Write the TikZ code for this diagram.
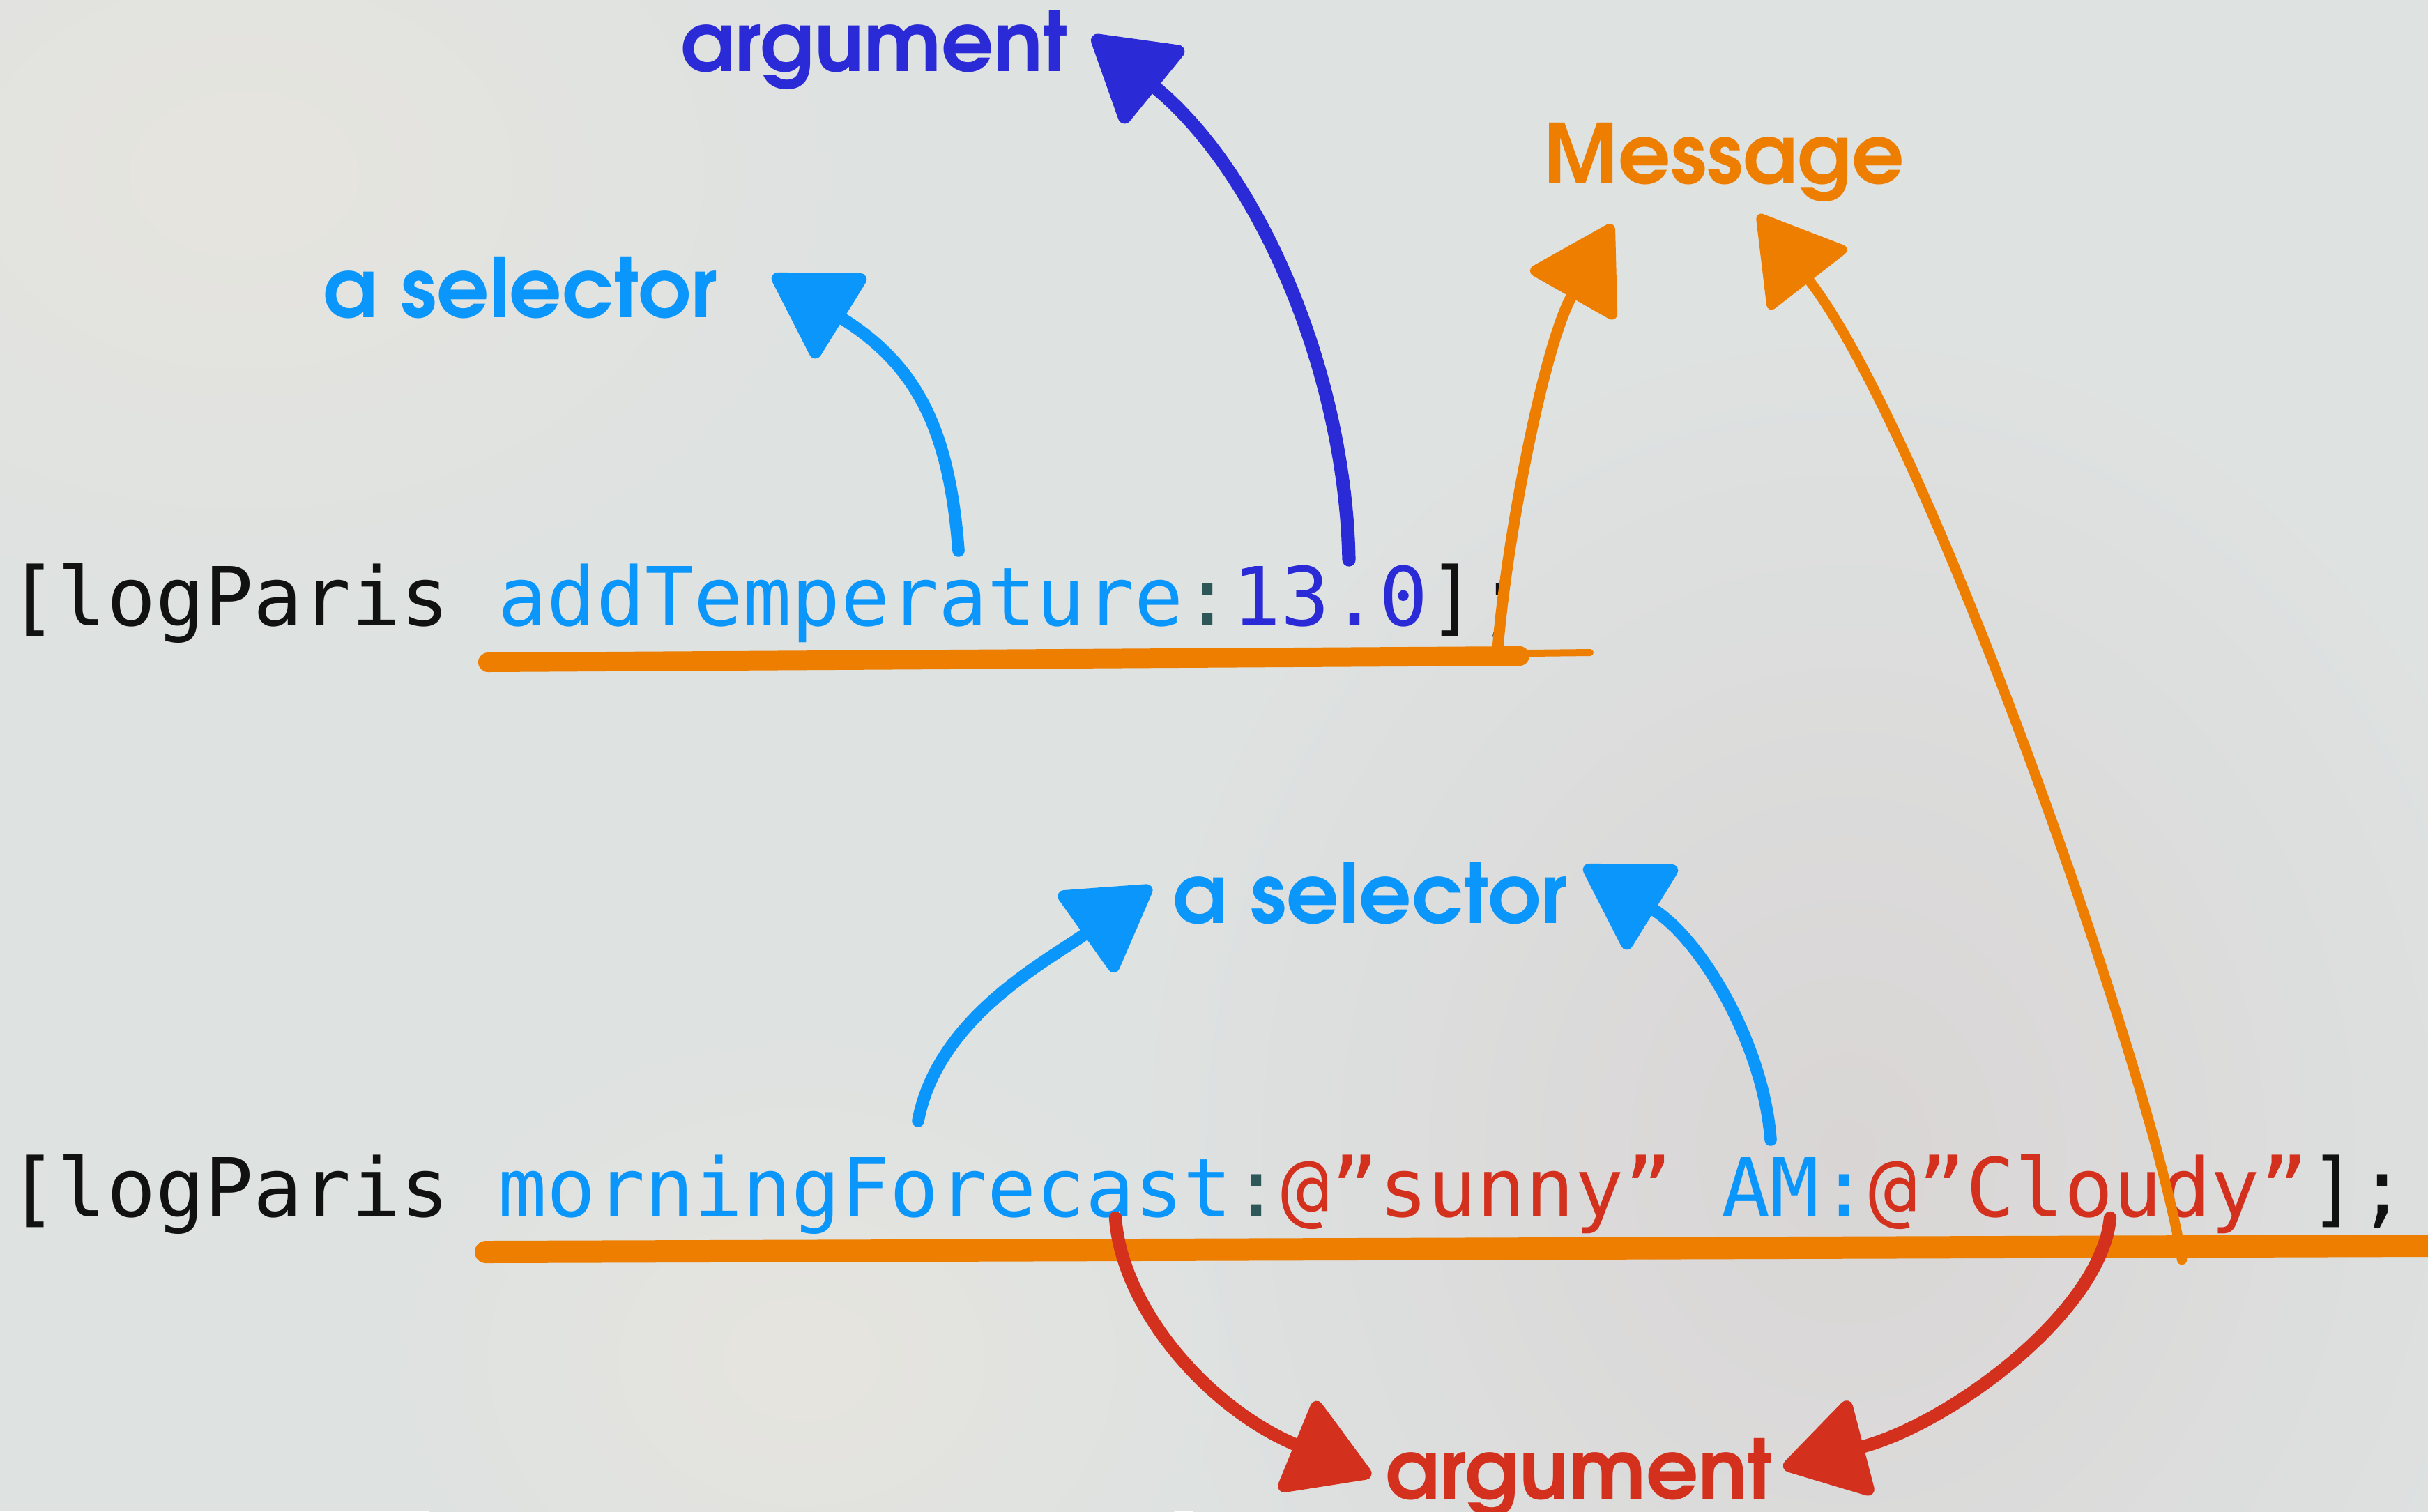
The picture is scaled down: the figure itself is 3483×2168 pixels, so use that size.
\documentclass[tikz,border=0pt]{standalone}
\usepackage{fontspec}
\setmonofont{DejaVu Sans Mono}
\newfontfamily\lblfont{texgyreadventor}[Extension=.otf,UprightFont=*-bold]
\usetikzlibrary{arrows.meta}

\definecolor{bg}{HTML}{DEE2E1}
\definecolor{bgwarm}{HTML}{E6E4DE}
\definecolor{bgpink}{HTML}{D9D5D5}
\definecolor{selblue}{HTML}{0A96FA}
\definecolor{argblue}{HTML}{2A2AD6}
\definecolor{colon}{HTML}{2E5757}
\definecolor{strred}{HTML}{D4301E}
\definecolor{msgorange}{HTML}{EE7E00}
\definecolor{codeblack}{HTML}{111111}

\newcommand\cdfont{\fontsize{29.15pt}{34pt}\selectfont\ttfamily}

\tikzset{
  code/.style={inner sep=0pt, anchor=base west, font=\cdfont, text=codeblack},
  lbl/.style={inner sep=0pt, anchor=base west, font=\lblfont\fontsize{29.5pt}{34pt}\selectfont},
  chalk/.style={line width=#1, line cap=round, line join=round,
    -{Triangle[length=32pt,width=37.5pt,round]}},
  underline/.style={msgorange, line cap=round, line width=#1},
}

\begin{document}
\begin{tikzpicture}[x=0.25pt, y=-0.25pt]
  % canvas
  \useasboundingbox (0,0) rectangle (3483,2168);
  \fill[bg] (0,0) rectangle (3483,2168);
  \shade[inner color=bgwarm, outer color=bg] (350,250) ellipse [x radius=220pt, y radius=160pt];
  \shade[inner color=bgpink, outer color=bg] (2650,1650) ellipse [x radius=260pt, y radius=300pt];
  \shade[inner color=bgwarm, outer color=bg] (1150,1950) ellipse [x radius=150pt, y radius=120pt];

  % message underlines
  \draw[underline=7pt] (700,950) -- (2180,941);
  \draw[underline=2.5pt] (2100,938) -- (2281,936);
  \draw[underline=8pt] (697,1796) -- (3483,1787);

  % code lines
  \node[code] (line1) at (12,897) {[logParis \textcolor{selblue}{addTemperature}\textcolor{colon}{:}\textcolor{argblue}{13.0}];};
  \node[code] (line2) at (12,1745) {[logParis \textcolor{selblue}{morningForecast}\textcolor{colon}{:}\textcolor{strred}{@”sunny”} \textcolor{selblue}{AM:}\textcolor{strred}{@”Cloudy”}];};

  % labels
  \node[lbl, text=argblue]   (arg1) at (976,102)   {argument};
  \node[lbl, text=selblue]   (sel1) at (463,455)   {a selector};
  \node[lbl, text=msgorange] (msg)  at (2214,263)  {Message};
  \node[lbl, text=selblue]   (sel2) at (1682,1324) {a selector};
  \node[lbl, text=strred]    (arg2) at (1987,2150) {argument};

  % arrow ends
  \coordinate (selA)  at (1375,790);  \coordinate (selAtip)  at (1108,395);
  \coordinate (argA)  at (1935,803);  \coordinate (argAtip)  at (1567,52);
  \coordinate (msgA)  at (2148,937);  \coordinate (msgAtip)  at (2313,322);
  \coordinate (msgB)  at (3130,1807); \coordinate (msgBtip)  at (2522,308);
  \coordinate (selB)  at (1317,1608); \coordinate (selBtip)  at (1652,1272);
  \coordinate (selC)  at (2540,1635); \coordinate (selCtip)  at (2272,1243);
  \coordinate (argB)  at (1600,1747); \coordinate (argBtip)  at (1967,2117);
  \coordinate (argC)  at (3027,1747); \coordinate (argCtip)  at (2558,2105);

  % first message
  \draw[chalk=4.4pt, selblue] (selA) .. controls (1362,620) and (1318,525) .. (selAtip);
  \draw[chalk=4.8pt, argblue] (argA) .. controls (1930,540) and (1810,250) .. (argAtip);
  \draw[chalk=4pt, msgorange] (msgA) .. controls (2160,780) and (2214,496) .. (msgAtip);

  % second message
  \draw[chalk=3.6pt, msgorange] (msgB) .. controls (3090,1550) and (2768,624) .. (msgBtip);
  \draw[chalk=4.4pt, selblue] (selB) .. controls (1345,1460) and (1500,1380) .. (selBtip);
  \draw[chalk=4.4pt, selblue] (selC) .. controls (2530,1500) and (2442,1348) .. (selCtip);
  \draw[chalk=4.6pt, strred] (argB) .. controls (1610,1880) and (1736,2022) .. (argBtip);
  \draw[chalk=4.6pt, strred] (argC) .. controls (3015,1880) and (2800,2042) .. (argCtip);
\end{tikzpicture}
\end{document}
